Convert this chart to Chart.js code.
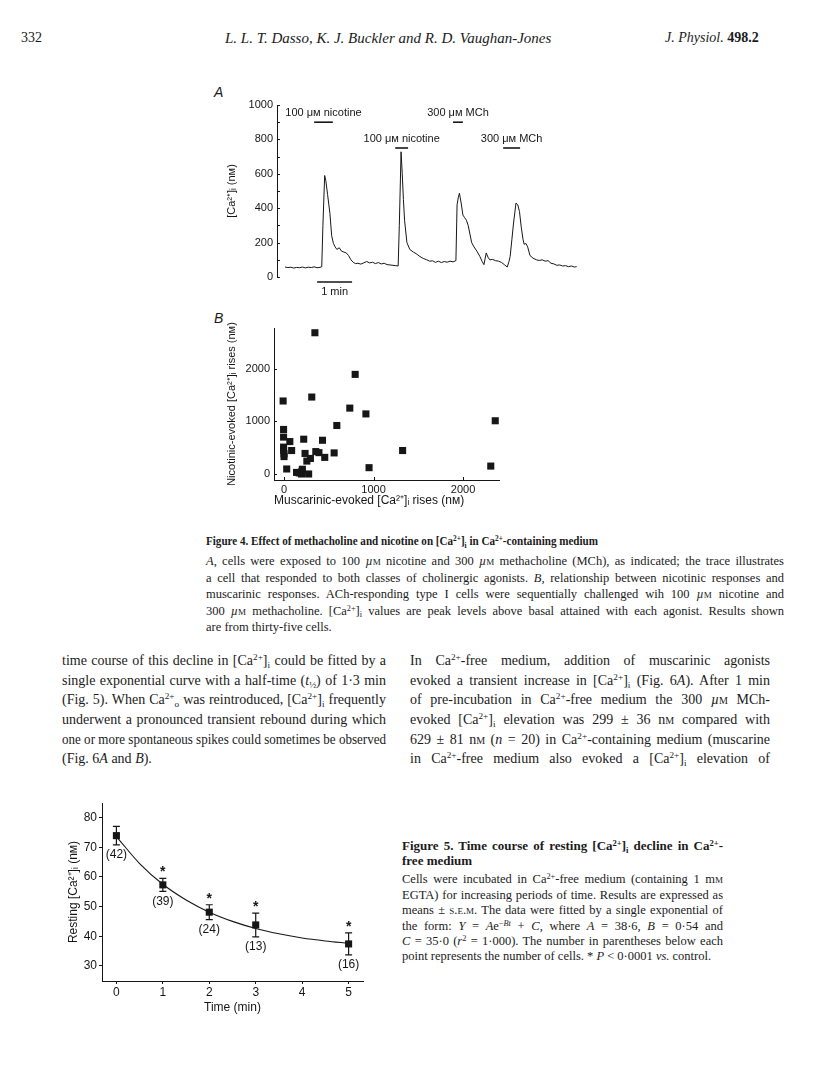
<!DOCTYPE html>
<html lang="en">
<head>
<meta charset="UTF-8">
<title>Figures 4 and 5</title>
<script src="https://cdn.jsdelivr.net/npm/chart.js"></script>
<style>
  body { margin: 0; background: #fff; }
  #page { position: relative; width: 816px; height: 1088px; color: #1b1b1b; font-family: "Liberation Serif", "DejaVu Serif", serif; overflow: hidden; }
  .ln { position: absolute; white-space: nowrap; line-height: 16px; transform-origin: 0 50%; }
  .body { font-size: 14px; }
  .cap { font-size: 12.5px; }
  .capb { font-size: 13px; font-weight: bold; }
  sup { font-size: .66em; vertical-align: .5em; line-height: 0; }
  sub { font-size: .66em; vertical-align: -.3em; line-height: 0; }
  .sc { font-variant: small-caps; }
  .panel { position: absolute; font: italic 14px "Liberation Sans", Arial, sans-serif; }
  canvas { position: absolute; }
</style>
</head>
<body>
<div id="page">
  <!-- header -->
  <div class="ln body" style="left:21px;top:30px">332</div>
  <div class="ln body" style="left:225px;top:30px;width:355px;font-style:italic;font-size:15px">L. L. T. Dasso, K. J. Buckler and R. D. Vaughan-Jones</div>
  <div class="ln body" style="left:665px;top:30px;width:100px"><i>J. Physiol.</i> <b>498.2</b></div>

  <!-- figure 4 -->
  <div class="panel" style="left:214px;top:84px">A</div>
  <div class="panel" style="left:214px;top:310px">B</div>
  <canvas id="traceChart" width="390" height="220" style="left:200px;top:90px"></canvas>
  <canvas id="scatterChart" width="330" height="210" style="left:200px;top:300px"></canvas>

  <div class="ln capb j" style="left:206px;top:533px;width:392px">Figure 4. Effect of methacholine and nicotine on [Ca<sup>2+</sup>]<sub>i</sub> in Ca<sup>2+</sup>-containing medium</div>
  <div class="ln cap j" style="left:206px;top:553px;width:578px"><i>A</i>, cells were exposed to 100 <i>µ</i><span class="sc">m</span> nicotine and 300 <i>µ</i><span class="sc">m</span> methacholine (MCh), as indicated; the trace illustrates</div>
  <div class="ln cap j" style="left:206px;top:570px;width:578px">a cell that responded to both classes of cholinergic agonists. <i>B</i>, relationship between nicotinic responses and</div>
  <div class="ln cap j" style="left:206px;top:586px;width:578px">muscarinic responses. ACh-responding type I cells were sequentially challenged wih 100 <i>µ</i><span class="sc">m</span> nicotine and</div>
  <div class="ln cap j" style="left:206px;top:603px;width:578px">300 <i>µ</i><span class="sc">m</span> methacholine. [Ca<sup>2+</sup>]<sub>i</sub> values are peak levels above basal attained with each agonist. Results shown</div>
  <div class="ln cap" style="left:206px;top:619px;width:578px">are from thirty-five cells.</div>

  <!-- running text, left column -->
  <div class="ln body j" style="left:62px;top:653px;width:324px">time course of this decline in [Ca<sup>2+</sup>]<sub>i</sub> could be fitted by a</div>
  <div class="ln body j" style="left:62px;top:673px;width:324px">single exponential curve with a half-time (<i>t</i><sub>½</sub>) of 1·3 min</div>
  <div class="ln body j" style="left:62px;top:692px;width:324px">(Fig. 5). When Ca<sup>2+</sup><sub>o</sub> was reintroduced, [Ca<sup>2+</sup>]<sub>i</sub> frequently</div>
  <div class="ln body j" style="left:62px;top:712px;width:324px">underwent a pronounced transient rebound during which</div>
  <div class="ln body j" style="left:62px;top:732px;width:324px">one or more spontaneous spikes could sometimes be observed</div>
  <div class="ln body" style="left:62px;top:751px;width:324px">(Fig. 6<i>A</i> and <i>B</i>).</div>

  <!-- running text, right column -->
  <div class="ln body j" style="left:410px;top:653px;width:360px">In Ca<sup>2+</sup>-free medium, addition of muscarinic agonists</div>
  <div class="ln body j" style="left:410px;top:673px;width:360px">evoked a transient increase in [Ca<sup>2+</sup>]<sub>i</sub> (Fig. 6<i>A</i>). After 1 min</div>
  <div class="ln body j" style="left:410px;top:692px;width:360px">of pre-incubation in Ca<sup>2+</sup>-free medium the 300 <i>µ</i><span class="sc">m</span> MCh-</div>
  <div class="ln body j" style="left:410px;top:712px;width:360px">evoked [Ca<sup>2+</sup>]<sub>i</sub> elevation was 299 ± 36 n<span class="sc">m</span> compared with</div>
  <div class="ln body j" style="left:410px;top:732px;width:360px">629 ± 81 n<span class="sc">m</span> (<i>n</i> = 20) in Ca<sup>2+</sup>-containing medium (muscarine</div>
  <div class="ln body j" style="left:410px;top:751px;width:360px">in Ca<sup>2+</sup>-free medium also evoked a [Ca<sup>2+</sup>]<sub>i</sub> elevation of</div>

  <!-- figure 5 -->
  <canvas id="restingChart" width="320" height="230" style="left:60px;top:790px"></canvas>
  <div class="ln capb j" style="left:402px;top:838px;width:321px">Figure 5. Time course of resting [Ca<sup>2+</sup>]<sub>i</sub> decline in Ca<sup>2+</sup>-</div>
  <div class="ln capb" style="left:402px;top:853px;width:321px">free medium</div>
  <div class="ln cap j" style="left:402px;top:871px;width:321px">Cells were incubated in Ca<sup>2+</sup>-free medium (containing 1 m<span class="sc">m</span></div>
  <div class="ln cap j" style="left:402px;top:887px;width:321px">EGTA) for increasing periods of time. Results are expressed as</div>
  <div class="ln cap j" style="left:402px;top:902px;width:321px">means ± <span class="sc">s.e.m.</span> The data were fitted by a single exponential of</div>
  <div class="ln cap j" style="left:402px;top:918px;width:321px">the form: <i>Y</i> = <i>A</i>e<sup>−<i>Bt</i></sup> + <i>C</i>, where <i>A</i> = 38·6, <i>B</i> = 0·54 and</div>
  <div class="ln cap j" style="left:402px;top:933px;width:321px"><i>C</i> = 35·0 (<i>r</i><sup>2</sup> = 1·000). The number in parentheses below each</div>
  <div class="ln cap" style="left:402px;top:948px;width:321px">point represents the number of cells. * <i>P</i> &lt; 0·0001 <i>vs.</i> control.</div>
</div>

<script>
// ---------- Fig. 4A: [Ca2+]i trace (time in s, Ca in nM) ----------
const traceTime = [0, 5, 10, 15, 20, 25, 30, 35, 40, 45, 50, 55, 60, 63, 65, 68, 70, 73, 77, 80,
  83, 86, 89, 93, 97, 101, 105, 109, 113, 117, 121, 125, 130, 135, 140, 145, 150, 155, 160, 165,
  170, 175, 180, 185, 190, 194, 196, 199, 201, 203, 205, 209, 214, 220, 225, 231, 237, 243, 248, 253,
  258, 263, 268, 273, 278, 283, 288, 293, 295, 297, 299, 302, 305, 308, 311, 314, 317, 320, 324, 329,
  334, 338, 341, 343, 345, 348, 351, 356, 361, 366, 371, 376, 381, 384, 386, 389, 392, 396, 399, 402,
  405, 408, 410, 413, 416, 420, 425, 431, 436, 441, 446, 451, 456, 461, 466, 471, 476, 481, 486, 491,
  496, 500];
const traceCa = [58, 55, 57, 52, 56, 54, 58, 53, 57, 55, 59, 54, 56, 60, 300, 590, 560, 480, 370, 240,
  195, 175, 160, 170, 150, 145, 140, 125, 100, 85, 78, 80, 75, 82, 90, 82, 86, 78, 84, 76,
  80, 72, 70, 68, 66, 64, 300, 728, 600, 450, 330, 200, 160, 145, 135, 120, 108, 100, 92, 94,
  85, 92, 84, 90, 86, 92, 88, 95, 420, 460, 487, 430, 360, 345, 330, 300, 250, 200, 175, 150,
  120, 90, 72, 105, 140, 115, 100, 102, 95, 92, 85, 72, 58, 90, 120, 220, 320, 430, 420, 380,
  290, 220, 190, 195, 175, 125, 110, 100, 96, 100, 92, 95, 80, 76, 68, 70, 64, 66, 60, 64,
  58, 60];

// drug applications (s) and the level (nM) their bars sit at
const drugLabels = ["100 μᴍ nicotine", "100 μᴍ nicotine", "300 μᴍ MCh", "300 μᴍ MCh"];
const drugStart = [50, 189, 288, 374];
const drugEnd = [82, 211, 305, 403];
const drugLevel = [900, 750, 900, 750];

// 1 min calibration bar
const calStart = 55;
const calEnd = 115;
const calLevel = -29;

const traceTicks = [0, 200, 400, 600, 800, 1000];

// ---------- Fig. 4B: nicotinic vs muscarinic rises (nM) ----------
const muscX = [345, 795, 310, -10, 735, 915, 2360, 590, -5, -5, 65, 220, 430, -5, -5, 0, 0, 85,
  235, 355, 390, 560, 455, 295, 255, 1325, 2310, 950, 30, 140, 205, 195, 275, 200, 170];
const nicY = [2680, 1890, 1460, 1385, 1250, 1140, 1010, 920, 845, 700, 615, 660, 640, 510, 450, 385, 330, 445,
  390, 425, 405, 400, 315, 295, 245, 445, 150, 120, 95, 30, 90, 0, 0, 50, 20];
const scatterTicks = [0, 1000, 2000];

// ---------- Fig. 5: resting [Ca2+]i in Ca-free medium ----------
const restTime = [0, 1, 2, 3, 5];
const restMean = [73.9, 57.3, 48.1, 43.8, 37.4];
const restSem = [3.1, 2.2, 2.5, 4.0, 3.7];
const restN = [42, 39, 24, 13, 16];
const restSig = [false, true, true, true, true];
// fitted exponential
const fitTime = [0, 0.5, 1, 1.5, 2, 2.5, 3, 3.5, 4, 4.5, 5];
const fitCa = [73.6, 64.5, 57.5, 52.2, 48.1, 45.0, 42.6, 40.8, 39.4, 38.4, 37.6];
const timeTicks = [0, 1, 2, 3, 4, 5];
const restTicks = [30, 40, 50, 60, 70, 80];

// ---------- shared bits ----------
const INK = "#161616";
const SANS = "'Liberation Sans', Arial, sans-serif";
Chart.defaults.font.family = SANS;
Chart.defaults.font.size = 11;
Chart.defaults.color = INK;

// ticks that point into the plot (Fig. 4 style)
const inwardTicks = {
  id: "inwardTicks",
  afterDraw(chart, args, opts) {
    const ctx = chart.ctx;
    ctx.save();
    ctx.strokeStyle = INK;
    ctx.lineWidth = 1;
    (opts.axes || []).forEach(id => {
      const s = chart.scales[id];
      s.ticks.forEach((t, i) => {
        const p = Math.round(s.getPixelForTick(i)) + 0.5;
        ctx.beginPath();
        if (s.isHorizontal()) { ctx.moveTo(p, s.top); ctx.lineTo(p, s.top - 3); }
        else { ctx.moveTo(s.right, p); ctx.lineTo(s.right + 3, p); }
        ctx.stroke();
      });
    });
    ctx.restore();
  }
};

function fixWidth(w) { return scale => { scale.width = w; }; }
function fixHeight(h) { return scale => { scale.height = h; }; }
function fixedTicks(list) { return scale => { scale.ticks = list.map(v => ({ value: v })); }; }

// ---------- chart A ----------
const drugSets = drugStart.map((s, i) => ({
  data: [{ x: s, y: drugLevel[i] }, { x: drugEnd[i], y: drugLevel[i] }],
  borderColor: INK, borderWidth: 1.6, pointRadius: 0
}));

const traceLabels = {
  id: "traceLabels",
  afterDraw(chart) {
    const { ctx, scales: { x, y } } = chart;
    ctx.save();
    ctx.fillStyle = INK;
    ctx.font = "11px " + SANS;
    ctx.textAlign = "center";
    ctx.textBaseline = "alphabetic";
    drugLabels.forEach((txt, i) => {
      const cx = x.getPixelForValue((drugStart[i] + drugEnd[i]) / 2);
      ctx.fillText(txt, cx, y.getPixelForValue(drugLevel[i]) - 6);
    });
    ctx.textBaseline = "top";
    ctx.fillText("1 min", x.getPixelForValue((calStart + calEnd) / 2), y.getPixelForValue(calLevel) + 4);
    ctx.restore();
  }
};

new Chart(document.getElementById("traceChart"), {
  type: "line",
  data: {
    datasets: [
      { data: traceTime.map((t, i) => ({ x: t, y: traceCa[i] })), borderColor: INK, borderWidth: 1, pointRadius: 0, tension: 0 },
      ...drugSets,
      { data: [{ x: calStart, y: calLevel }, { x: calEnd, y: calLevel }], borderColor: INK, borderWidth: 1.6, pointRadius: 0, clip: false }
    ]
  },
  options: {
    responsive: false,
    animation: false,
    layout: { padding: { top: 15, bottom: 33, right: 5, left: 0 } },
    plugins: { legend: { display: false }, tooltip: { enabled: false }, inwardTicks: { axes: ["y"] } },
    scales: {
      x: { type: "linear", min: -13.7, max: 514.3, display: false },
      y: {
        min: 0, max: 1000,
        afterFit: fixWidth(77),
        ticks: { stepSize: 100, padding: 4, callback: v => traceTicks.includes(v) ? String(v) : "" },
        grid: { display: true, drawOnChartArea: false, drawTicks: false },
        border: { color: INK, width: 1 },
        title: { display: true, text: "[Ca²⁺]ᵢ (nᴍ)", padding: { top: 25 }, font: { size: 11 } }
      }
    }
  },
  plugins: [inwardTicks, traceLabels]
});

// ---------- chart B ----------
new Chart(document.getElementById("scatterChart"), {
  type: "scatter",
  data: {
    datasets: [{
      data: muscX.map((v, i) => ({ x: v, y: nicY[i] })),
      pointStyle: "rect", pointRadius: 5, backgroundColor: INK, borderColor: INK, borderWidth: 0
    }]
  },
  options: {
    responsive: false,
    animation: false,
    layout: { padding: { top: 28, right: 31, left: 0, bottom: 0 } },
    plugins: { legend: { display: false }, tooltip: { enabled: false }, inwardTicks: { axes: ["x", "y"] } },
    scales: {
      x: {
        type: "linear", min: -112, max: 2402,
        afterFit: fixHeight(30),
        afterBuildTicks: fixedTicks(scatterTicks),
        ticks: { padding: 3, maxRotation: 0, callback: v => String(v) },
        grid: { display: true, drawOnChartArea: false, drawTicks: false },
        border: { color: INK, width: 1 },
        title: { display: true, align: "start", text: "Muscarinic-evoked [Ca²⁺]ᵢ rises (nᴍ)", padding: { bottom: 2 }, font: { size: 12 } }
      },
      y: {
        min: -114, max: 2770,
        afterFit: fixWidth(74),
        afterBuildTicks: fixedTicks(scatterTicks),
        ticks: { padding: 4, callback: v => String(v) },
        grid: { display: true, drawOnChartArea: false, drawTicks: false },
        border: { color: INK, width: 1 },
        title: { display: true, text: "Nicotinic-evoked [Ca²⁺]ᵢ rises (nᴍ)", padding: { top: 25 }, font: { size: 11 } }
      }
    }
  },
  plugins: [inwardTicks]
});

// ---------- chart Fig. 5 ----------
const errorBars = {
  id: "errorBars",
  afterDatasetsDraw(chart) {
    const { ctx, scales: { x, y } } = chart;
    ctx.save();
    ctx.strokeStyle = INK;
    ctx.fillStyle = INK;
    ctx.lineWidth = 1.2;
    restTime.forEach((t, i) => {
      const px = x.getPixelForValue(t);
      const top = y.getPixelForValue(restMean[i] + restSem[i]);
      const bot = y.getPixelForValue(restMean[i] - restSem[i]);
      ctx.beginPath();
      ctx.moveTo(px, top); ctx.lineTo(px, bot);
      ctx.moveTo(px - 3.5, top); ctx.lineTo(px + 3.5, top);
      ctx.moveTo(px - 3.5, bot); ctx.lineTo(px + 3.5, bot);
      ctx.stroke();
      ctx.textAlign = "center";
      ctx.font = "12px " + SANS;
      ctx.textBaseline = "top";
      ctx.fillText("(" + restN[i] + ")", px, bot + 4);
      if (restSig[i]) {
        ctx.font = "bold 14px " + SANS;
        ctx.textBaseline = "alphabetic";
        ctx.fillText("*", px, top - 2);
      }
    });
    ctx.restore();
  }
};

new Chart(document.getElementById("restingChart"), {
  type: "line",
  data: {
    datasets: [
      { data: fitTime.map((t, i) => ({ x: t, y: fitCa[i] })), borderColor: INK, borderWidth: 1.1, pointRadius: 0, cubicInterpolationMode: "monotone" },
      { data: restTime.map((t, i) => ({ x: t, y: restMean[i] })), showLine: false, pointStyle: "rect", pointRadius: 5, backgroundColor: INK, borderColor: INK, borderWidth: 0 }
    ]
  },
  options: {
    responsive: false,
    animation: false,
    layout: { padding: { top: 13, right: 17, left: 0, bottom: 0 } },
    plugins: { legend: { display: false }, tooltip: { enabled: false } },
    scales: {
      x: {
        type: "linear", min: -0.31, max: 5.31,
        afterFit: fixHeight(39),
        afterBuildTicks: fixedTicks(timeTicks),
        ticks: { padding: 1, font: { size: 12 }, maxRotation: 0 },
        grid: { drawOnChartArea: false, tickLength: 3, color: INK },
        border: { color: INK, width: 1 },
        title: { display: true, text: "Time (min)", padding: { bottom: 5 }, font: { size: 12 } }
      },
      y: {
        min: 24.9, max: 84.9,
        afterFit: fixWidth(42),
        afterBuildTicks: fixedTicks(restTicks),
        ticks: { padding: 2, font: { size: 12 } },
        grid: { drawOnChartArea: false, tickLength: 3, color: INK },
        border: { color: INK, width: 1 },
        title: { display: true, text: "Resting [Ca²⁺]ᵢ (nᴍ)", padding: { top: 6 }, font: { size: 12 } }
      }
    }
  },
  plugins: [errorBars]
});

// fit each text line to its measured width: justify short lines, squeeze long ones
document.querySelectorAll(".ln").forEach(el => {
  const target = parseFloat(el.style.width);
  if (!target) return;
  el.style.width = "auto";
  const nat = el.getBoundingClientRect().width;
  if (nat > target) {
    el.style.transform = "scaleX(" + (target / nat).toFixed(4) + ")";
  } else if (el.classList.contains("j")) {
    el.style.width = target + "px";
    el.style.textAlign = "justify";
    el.style.textAlignLast = "justify";
  }
});
</script>
</body>
</html>
